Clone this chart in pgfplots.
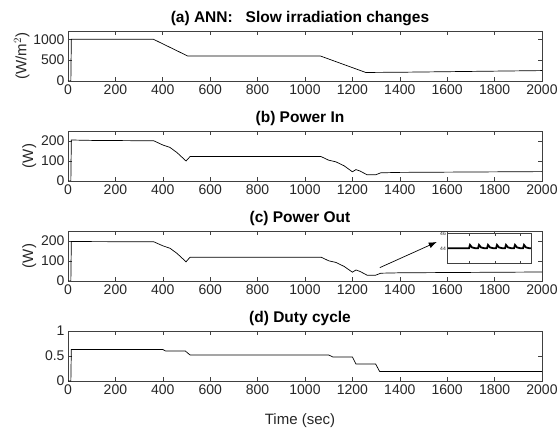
\documentclass[border=0pt]{standalone}
\usepackage{fontspec}
\setmainfont{Liberation Sans}
\usepackage{pgfplots}
\pgfplotsset{compat=1.18}
\usetikzlibrary{arrows.meta}

\pgfplotsset{
  panel/.style={
    scale only axis, width=474pt, height=50pt,
    anchor=south west,
    xmin=0, xmax=2000, xtick={0,200,...,2000},
    tick align=inside, tick pos=both, major tick length=4pt,
    axis line style={black!75, line width=0.6pt},
    every tick/.style={black!75, line width=0.6pt},
    ticklabel style={font=\fontsize{14}{16}\selectfont, text=black!85},
    xticklabel style={inner sep=4pt},
    label style={font=\fontsize{15}{17}\selectfont, text=black!85},
    title style={font=\fontsize{15.5}{17}\selectfont\bfseries, yshift=-4.5pt, xshift=-5pt},
    scaled ticks=false,
    /pgf/number format/assume math mode=true,
    /pgf/number format/set thousands separator={},
  },
  ln/.style={black, line width=0.7pt, mark=none},
}

\begin{document}
\begin{tikzpicture}
\useasboundingbox (0pt,0pt) rectangle (558pt,-433pt);

% (a)
\begin{axis}[panel, at={(68pt,-81pt)},
  ymin=0, ymax=1200, ytick={0,500,1000},
  ylabel={(W/m$^2$)}, ylabel style={yshift=-3pt},
  title={(a) ANN:\ \ \ Slow irradiation changes}]
\addplot[ln] coordinates {(0,0) (12,0) (14,1000) (361,1000) (505,600) (1065,600) (1256,205) (1400,210) (2000,250)};
\end{axis}

% (b)
\begin{axis}[panel, at={(68pt,-181pt)},
  ymin=0, ymax=250, ytick={0,100,200},
  ylabel={(W)}, ylabel style={yshift=-2pt},
  title={(b) Power In}]
\addplot[ln] coordinates {(0,0) (12,0) (14,205) (100,203) (362,201) (400,180) (430,168) (460,142) (498,100) (515,122) (1068,122) (1100,104) (1130,96) (1165,76) (1200,46) (1215,57) (1232,50) (1262,31) (1298,31) (1320,41) (1400,43) (2000,47)};
\end{axis}

% (c)
\begin{axis}[panel, at={(68pt,-281pt)},
  ymin=0, ymax=250, ytick={0,100,200},
  ylabel={(W)}, ylabel style={yshift=-2pt},
  title={(c) Power Out}]
\addplot[ln] coordinates {(0,0) (12,0) (14,198) (100,197) (362,196) (400,176) (430,164) (460,138) (498,96) (515,119) (1068,119) (1100,101) (1130,93) (1165,73) (1200,44) (1215,55) (1232,48) (1262,29) (1298,29) (1320,39) (1400,41) (2000,45)};
\draw[black, line width=0.7pt, -{Latex[length=8pt,width=6pt]}] (axis cs:1316,67) -- (axis cs:1556,195);
\end{axis}

% inset
\begin{axis}[at={(447pt,-263.3pt)}, anchor=south west,
  scale only axis, width=84pt, height=30pt,
  xmin=0, xmax=84, ymin=42, ymax=46,
  xtick={22,48,73}, xticklabels={},
  ytick={44,46},
  tick align=inside, tick pos=both, major tick length=2.5pt,
  axis line style={black!75, line width=0.5pt},
  every tick/.style={black!75, line width=0.5pt},
  yticklabel style={font=\fontsize{5}{6}\selectfont, text=black!85, inner sep=1pt},
  /pgf/number format/assume math mode=true,
  axis background/.style={fill=white}]
\addplot[black, line width=1.8pt, mark=none] coordinates {(1,44) (22,44) (23,44.45) (25,44.12) (28,44.02) (31,44) (32,44.45) (34,44.12) (37,44.02) (40,44) (41,44.45) (43,44.12) (46,44.02) (49,44) (50,44.45) (52,44.12) (55,44.02) (58,44) (59,44.45) (61,44.12) (64,44.02) (67,44) (68,44.45) (70,44.12) (73,44.02) (76,44) (77,44.45) (79,44.12) (82,44.02) (84,44)};
\end{axis}

% (d)
\begin{axis}[panel, at={(68pt,-381pt)},
  ymin=0, ymax=1, ytick={0,0.5,1},
  xlabel={Time (sec)}, xlabel style={yshift=-11pt, xshift=-5pt},
  title={(d) Duty cycle}]
\addplot[ln] coordinates {(0,0) (12,0) (14,0.63) (400,0.63) (412,0.60) (495,0.60) (515,0.52) (1100,0.52) (1118,0.48) (1200,0.48) (1215,0.34) (1298,0.34) (1315,0.19) (2000,0.19)};
\end{axis}
\end{tikzpicture}
\end{document}
